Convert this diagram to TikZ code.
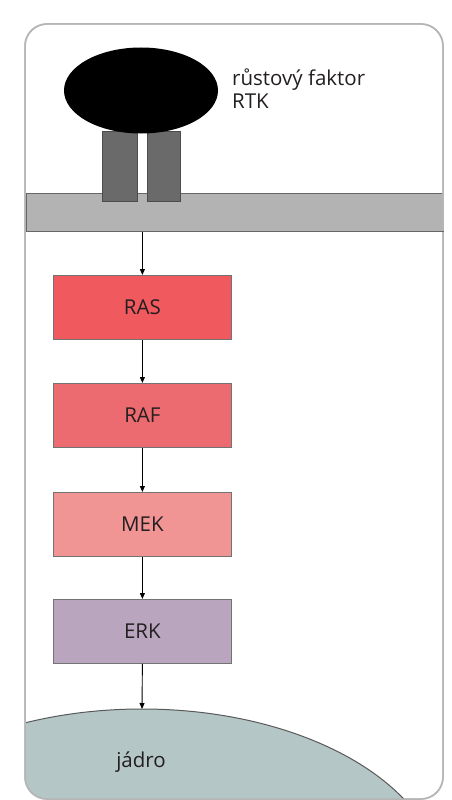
\documentclass[tikz,border=0pt]{standalone}
\usepackage{fontspec}
\setmainfont{Open Sans}
\usetikzlibrary{arrows.meta,shapes.geometric}
\definecolor{txt}{HTML}{231F20}
\definecolor{rascol}{HTML}{F05A5F}
\definecolor{rafcol}{HTML}{EC6B71}
\definecolor{mekcol}{HTML}{F09494}
\definecolor{erkcol}{HTML}{B9A5BE}
\definecolor{nuccol}{HTML}{B4C6C6}
\definecolor{memcol}{HTML}{B3B3B3}
\definecolor{legcol}{HTML}{6A6A6A}
\definecolor{framecol}{HTML}{B5B5B5}
\tikzset{
  kinase/.style={draw=black!55, line width=0.8pt, minimum width=178pt, minimum height=64pt, inner sep=0pt, text=txt, font=\fontsize{20.5}{22}\selectfont},
  arr/.style={draw=black, line width=0.9pt, -{Triangle[length=6pt,width=5pt]}},
  lbl/.style={text=txt, font=\fontsize{20.5}{23}\selectfont, inner sep=0pt}
}
\begin{document}
\begin{tikzpicture}[x=1pt,y=-1pt]
\useasboundingbox (0,0) rectangle (452,800);
\fill[white] (0,0) rectangle (452,800);
% frame
\path[draw=framecol, line width=1.5pt, fill=white, rounded corners=22pt] (25,24) rectangle (443,799);
% nucleus
\begin{scope}
\clip[rounded corners=22pt] (25,24) rectangle (443,799);
\fill[nuccol, draw=black!65, line width=1pt] (142,885) ellipse [x radius=300pt, y radius=176pt];
\end{scope}
\coordinate (nuctop) at (142,709);
\draw[framecol, line width=1.5pt, rounded corners=22pt] (25,24) rectangle (443,799);
% membrane
\node[fill=memcol, draw=black!60, line width=1pt, minimum width=417pt, minimum height=38pt, inner sep=0pt, anchor=north west] (mem) at (25.5,193) {};
\draw[framecol, line width=1.5pt] (443,193) -- (443,231);
% receptor legs
\node[fill=legcol, draw=black!70, line width=0.6pt, minimum width=35pt, minimum height=70pt, inner sep=0pt, anchor=north west] (leg1) at (102,131) {};
\node[fill=legcol, draw=black!70, line width=0.6pt, minimum width=33pt, minimum height=70pt, inner sep=0pt, anchor=north west] (leg2) at (147,131) {};
% growth factor
\node[ellipse, fill=black, minimum width=154pt, minimum height=86pt, inner sep=0pt] (gf) at (141,90.5) {};
\node[lbl, anchor=north west, align=left] (gflbl) at (232,69) {růstový faktor\\RTK};
% kinases
\node[kinase, fill=rascol, anchor=north west] (ras) at (53,275) {RAS};
\node[kinase, fill=rafcol, anchor=north west] (raf) at (53,383) {RAF};
\node[kinase, fill=mekcol, anchor=north west] (mek) at (53,492) {MEK};
\node[kinase, fill=erkcol, anchor=north west] (erk) at (53,599) {ERK};
% arrows
\draw[arr] (mem.south -| ras.north) -- (ras.north);
\draw[arr] (ras.south) -- (raf.north);
\draw[arr] (raf.south) -- (mek.north);
\draw[arr] (mek.south) -- (erk.north);
\draw[arr] (erk.south) -- (nuctop);
\node[lbl] (nuclbl) at (141,762) {jádro};
\end{tikzpicture}
\end{document}
